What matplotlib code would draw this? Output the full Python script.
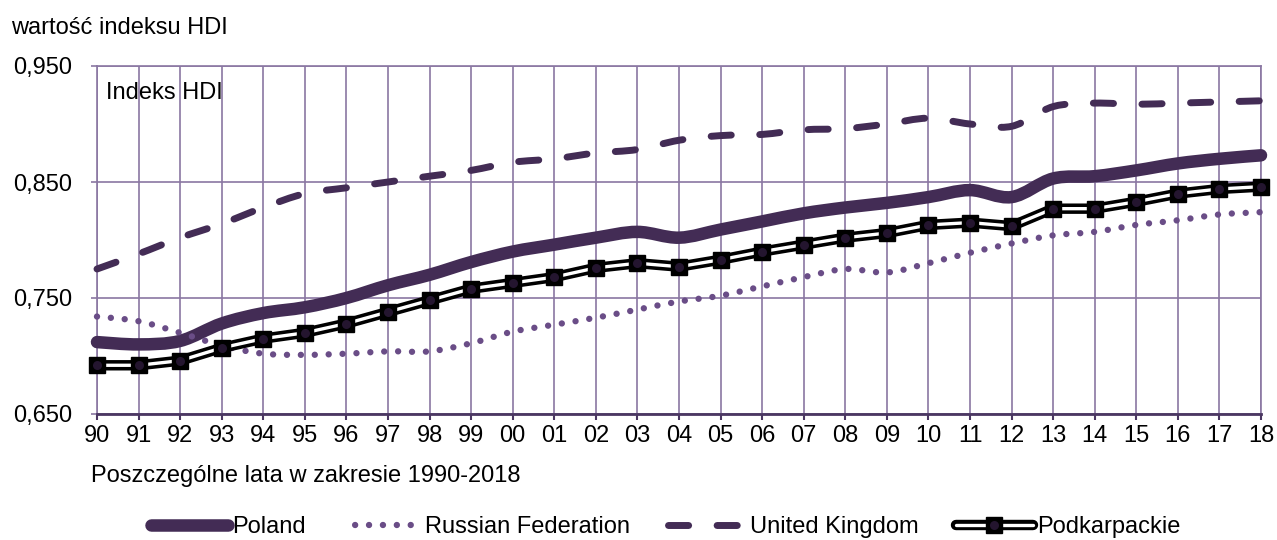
import numpy as np
import matplotlib
matplotlib.use("Agg")
import matplotlib.pyplot as plt
from matplotlib.path import Path
from matplotlib.patches import PathPatch
from matplotlib.lines import Line2D
from matplotlib.legend_handler import HandlerTuple

plt.rcParams['font.family'] = ['Liberation Sans', 'DejaVu Sans']
plt.rcParams['lines.scale_dashes'] = False

years = ['90', '91', '92', '93', '94', '95', '96', '97', '98', '99',
         '00', '01', '02', '03', '04', '05', '06', '07', '08', '09',
         '10', '11', '12', '13', '14', '15', '16', '17', '18']

poland = [0.712, 0.710, 0.713, 0.728, 0.737, 0.742, 0.750, 0.761, 0.770, 0.781,
          0.790, 0.796, 0.802, 0.807, 0.802, 0.809, 0.816, 0.823, 0.828, 0.832,
          0.837, 0.843, 0.837, 0.853, 0.855, 0.860, 0.866, 0.870, 0.873]
russia = [0.734, 0.730, 0.720, 0.709, 0.702, 0.701, 0.702, 0.704, 0.704, 0.711,
          0.721, 0.727, 0.733, 0.740, 0.747, 0.752, 0.760, 0.768, 0.775, 0.772,
          0.780, 0.789, 0.797, 0.804, 0.807, 0.813, 0.817, 0.822, 0.824]
uk = [0.775, 0.788, 0.802, 0.814, 0.828, 0.840, 0.845, 0.850, 0.855, 0.860,
      0.867, 0.870, 0.875, 0.878, 0.886, 0.890, 0.891, 0.895, 0.896, 0.900,
      0.905, 0.900, 0.898, 0.915, 0.918, 0.917, 0.918, 0.919, 0.920]
podkarpackie = [0.692, 0.692, 0.696, 0.707, 0.715, 0.720, 0.728, 0.738, 0.748, 0.758,
                0.763, 0.768, 0.776, 0.780, 0.777, 0.783, 0.790, 0.796, 0.802, 0.806,
                0.813, 0.815, 0.812, 0.827, 0.827, 0.833, 0.840, 0.844, 0.846]

yticks = [0.65, 0.75, 0.85, 0.95]

DARK = '#432c55'
RUS = '#6a4d87'
GRID = '#8a77a2'
AXIS = '#4b3762'
FS = 17


def smooth_path(xs, ys):
    # catmull-rom -> bezier, like excel smoothed lines
    pts = np.column_stack([xs, ys])
    verts = [pts[0]]
    codes = [Path.MOVETO]
    n = len(pts)
    for i in range(n - 1):
        p0 = pts[max(i - 1, 0)]
        p1 = pts[i]
        p2 = pts[i + 1]
        p3 = pts[min(i + 2, n - 1)]
        c1 = p1 + (p2 - p0) / 6
        c2 = p2 - (p3 - p1) / 6
        verts += [c1, c2, p2]
        codes += [Path.CURVE4] * 3
    return Path(verts, codes)


fig = plt.figure(figsize=(12.77, 5.4), dpi=100)
ax = fig.add_axes([97 / 1277, 1 - 414 / 540, 1164 / 1277, 348 / 540])

x = np.arange(len(years))

ax.add_patch(PathPatch(smooth_path(x, poland), fill=False, edgecolor=DARK,
                       linewidth=9, capstyle='round', joinstyle='round', zorder=3,
                       clip_on=False))
ax.add_patch(PathPatch(smooth_path(x, russia), fill=False, edgecolor=RUS,
                       linewidth=4.6, linestyle=(0, (0.01, 10)), capstyle='round',
                       zorder=4, clip_on=False))
ax.add_patch(PathPatch(smooth_path(x, uk), fill=False, edgecolor=DARK,
                       linewidth=5, linestyle=(0, (14.5, 20.5)), capstyle='round',
                       zorder=4, clip_on=False))

PK_LW = 7.5
PK_IN = 2.4
PK_MS = 11.5
ax.plot(x, podkarpackie, color='black', lw=PK_LW, zorder=5, clip_on=False)
ax.plot(x, podkarpackie, color='white', lw=PK_IN, zorder=6, clip_on=False)
ax.plot(x, podkarpackie, ls='none', marker='s', ms=PK_MS, mfc='black', mec='black',
        zorder=7, clip_on=False)
ax.plot(x, podkarpackie, ls='none', marker='o', ms=6.5, mfc='#24152f', mec='none',
        zorder=8, clip_on=False)

ax.set_xlim(0, len(years) - 1)
ax.set_ylim(0.65, 0.95)
ax.set_xticks(x)
ax.set_xticklabels(years)
ax.set_yticks(yticks)
ax.set_yticklabels([f"{v:.3f}".replace('.', ',') for v in yticks])

ax.grid(True, color=GRID, lw=1.2)
ax.set_axisbelow(True)
for s in ['left', 'right', 'top']:
    ax.spines[s].set_color(GRID)
    ax.spines[s].set_linewidth(1.2)
ax.spines['bottom'].set_color(AXIS)
ax.spines['bottom'].set_linewidth(2)

ax.tick_params(axis='y', length=4.5, width=1.2, color=GRID, pad=13.5, labelsize=FS)
ax.tick_params(axis='x', length=4.5, width=1.5, color=AXIS, pad=3.5, labelsize=FS)

fig.text(0.009, 1 - 34 / 540, 'wartość indeksu HDI', fontsize=FS, va='baseline')
fig.text(106 / 1277, 1 - 99 / 540, 'Indeks HDI', fontsize=FS, va='baseline')
fig.text(91 / 1277, 1 - 482 / 540, 'Poszczególne lata w zakresie 1990-2018',
         fontsize=FS, va='baseline')

h_pol = Line2D([], [], color=DARK, lw=9, solid_capstyle='round')
h_rus = Line2D([], [], color=RUS, lw=4.6, ls=(2, (0.01, 10)), dash_capstyle='round')
h_uk = Line2D([], [], color=DARK, lw=5, ls=(0, (14.5, 20.5)), dash_capstyle='round')
h_pk = (Line2D([], [], color='black', lw=PK_LW, solid_capstyle='round'),
        Line2D([], [], color='white', lw=PK_IN, solid_capstyle='round'),
        Line2D([], [], ls='none', marker='s', ms=PK_MS, mfc='black', mec='black'),
        Line2D([], [], ls='none', marker='o', ms=6.5, mfc='#24152f', mec='none'))

fig.legend([h_pol, h_rus, h_uk, h_pk],
           ['Poland', 'Russian Federation', 'United Kingdom', 'Podkarpackie'],
           handler_map={tuple: HandlerTuple(ndivide=1, pad=0)},
           loc='center', bbox_to_anchor=(0.5215, 1 - 527 / 540), ncol=4,
           frameon=False, fontsize=FS, handlelength=3.25, handletextpad=0.2,
           columnspacing=1.6, borderpad=0, numpoints=1)

fig.savefig('out.png', dpi=100)
